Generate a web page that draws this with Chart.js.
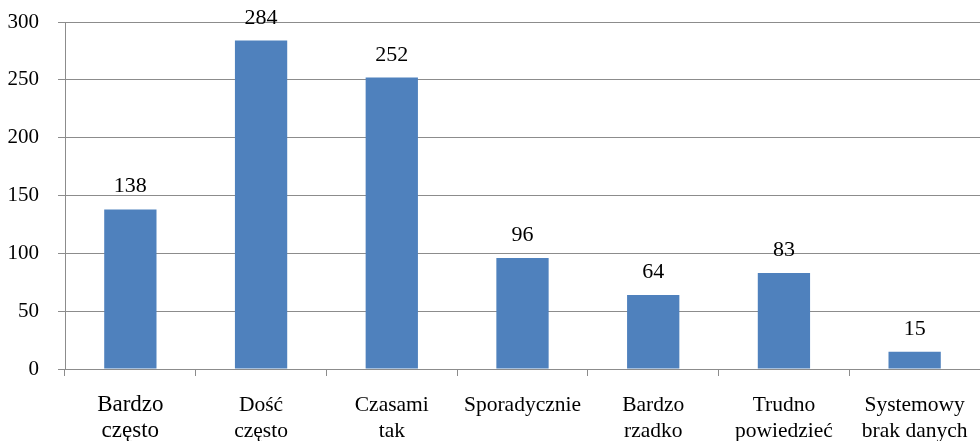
<!DOCTYPE html>
<html>
<head>
<meta charset="utf-8">
<script src="https://cdn.jsdelivr.net/npm/chart.js@4/dist/chart.umd.min.js"></script>
<style>
  html, body { margin: 0; padding: 0; background: #ffffff; }
  #wrap { width: 980px; height: 441px; position: relative; }
</style>
</head>
<body>
<div id="wrap"><canvas id="c"></canvas></div>
<script>
const categories = [
  ["Bardzo", "często"],
  ["Dość", "często"],
  ["Czasami", "tak"],
  "Sporadycznie",
  ["Bardzo", "rzadko"],
  ["Trudno", "powiedzieć"],
  ["Systemowy", "brak danych"]
];
const values = [138, 284, 252, 96, 64, 83, 15];
const yTicks = [0, 50, 100, 150, 200, 250, 300];

const SERIF = "'Liberation Serif', 'Times New Roman', serif";

const valueLabels = {
  id: 'valueLabels',
  afterDatasetsDraw(chart) {
    const ctx = chart.ctx;
    const meta = chart.getDatasetMeta(0);
    ctx.save();
    ctx.font = "22px " + SERIF;
    ctx.fillStyle = '#000';
    ctx.textAlign = 'center';
    ctx.textBaseline = 'alphabetic';
    meta.data.forEach((bar, i) => {
      ctx.fillText(String(values[i]), bar.x, bar.y - 17);
    });
    ctx.restore();
  }
};

new Chart(document.getElementById('c'), {
  type: 'bar',
  data: {
    labels: categories,
    datasets: [{
      data: values,
      backgroundColor: '#4F81BD',
      borderWidth: 0,
      categoryPercentage: 1.0,
      barPercentage: 0.4
    }]
  },
  options: {
    responsive: true,
    maintainAspectRatio: false,
    animation: false,
    layout: { padding: { top: 22, right: 0, bottom: 0, left: 0 } },
    plugins: { legend: { display: false }, tooltip: { enabled: false } },
    scales: {
      x: {
        afterFit: (axis) => { axis.height = 72; axis.paddingLeft = 0; axis.paddingRight = 0; },
        grid: {
          display: true,
          drawOnChartArea: false,
          drawTicks: true,
          tickLength: 7,
          color: '#8c8c8c',
          offset: true
        },
        border: { display: true, color: '#8c8c8c', width: 1 },
        ticks: {
          color: '#000',
          padding: 16,
          maxRotation: 0,
          autoSkip: false,
          font: (c) => ({ family: SERIF, size: c.index === 0 ? 23 : 21.5, lineHeight: '26px' })
        }
      },
      y: {
        min: 0,
        max: 300,
        afterFit: (axis) => { axis.width = 65; axis.paddingTop = 0; axis.paddingBottom = 0; },
        afterBuildTicks: (axis) => { axis.ticks = yTicks.map(v => ({ value: v })); },
        grid: {
          color: '#8c8c8c',
          lineWidth: 1,
          tickLength: 7,
          drawTicks: true
        },
        border: { display: true, color: '#8c8c8c', width: 1 },
        ticks: {
          color: '#000',
          padding: 19,
          font: { family: SERIF, size: 21 }
        }
      }
    }
  },
  plugins: [valueLabels]
});
</script>
</body>
</html>
